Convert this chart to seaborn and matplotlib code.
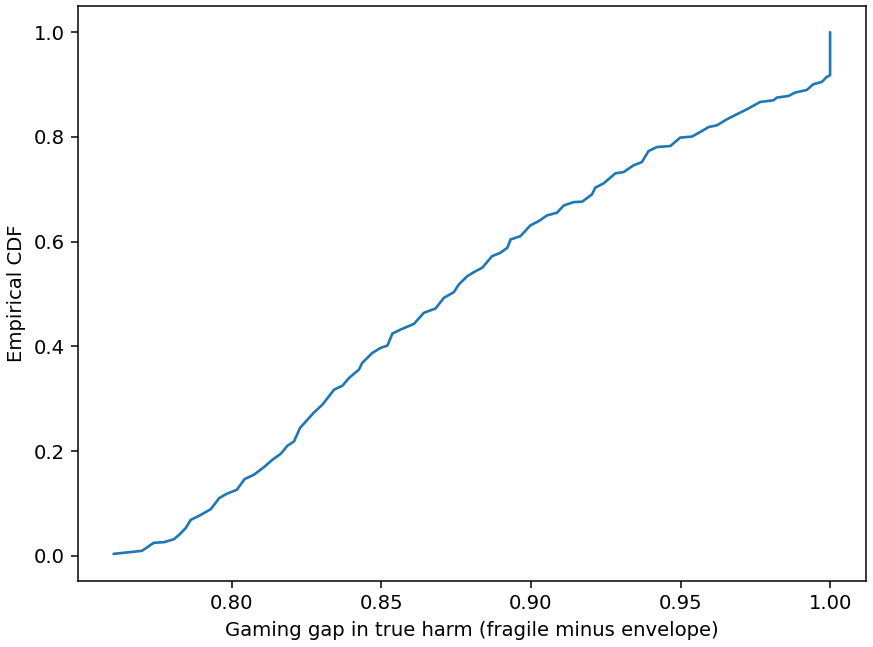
import numpy as np
import pandas as pd
import matplotlib
matplotlib.use("Agg")
import matplotlib.pyplot as plt
import seaborn as sns

# Gaming gap values (sorted) and empirical CDF readings
gap = [0.7605, 0.7700, 0.7739, 0.7774, 0.7807, 0.7824, 0.7846, 0.7863, 0.7891, 0.7930,
       0.7958, 0.7983, 0.8017, 0.8043, 0.8074, 0.8108, 0.8136, 0.8164, 0.8186, 0.8208,
       0.8228, 0.8275, 0.8303, 0.8342, 0.8370, 0.8392, 0.8425, 0.8436, 0.8470, 0.8497,
       0.8520, 0.8537, 0.8564, 0.8609, 0.8642, 0.8681, 0.8709, 0.8742, 0.8759, 0.8787,
       0.8815, 0.8837, 0.8870, 0.8898, 0.8921, 0.8932, 0.8965, 0.8998, 0.9026, 0.9054,
       0.9087, 0.9110, 0.9143, 0.9171, 0.9204, 0.9215, 0.9243, 0.9282, 0.9310, 0.9343,
       0.9371, 0.9393, 0.9421, 0.9466, 0.9499, 0.9538, 0.9566, 0.9594, 0.9622, 0.9655,
       0.9688, 0.9722, 0.9766, 0.9811, 0.9822, 0.9861, 0.9883, 0.9922, 0.9944, 0.9972,
       0.9989, 1.0, 1.0]
cdf = [0.0038, 0.0096, 0.0249, 0.0262, 0.0319, 0.0402, 0.0530, 0.0688, 0.0765, 0.0893,
       0.1103, 0.1185, 0.1262, 0.1467, 0.1549, 0.1696, 0.1836, 0.1950, 0.2103, 0.2185,
       0.2442, 0.2740, 0.2887, 0.3174, 0.3250, 0.3398, 0.3556, 0.3685, 0.3876, 0.3971,
       0.4015, 0.4245, 0.4321, 0.4430, 0.4641, 0.4723, 0.4927, 0.5034, 0.5182, 0.5340,
       0.5436, 0.5501, 0.5723, 0.5788, 0.5883, 0.6042, 0.6105, 0.6310, 0.6392, 0.6501,
       0.6553, 0.6692, 0.6755, 0.6763, 0.6902, 0.7031, 0.7113, 0.7304, 0.7329, 0.7457,
       0.7520, 0.7730, 0.7807, 0.7826, 0.7987, 0.8006, 0.8094, 0.8189, 0.8222, 0.8337,
       0.8432, 0.8528, 0.8667, 0.8700, 0.8751, 0.8782, 0.8847, 0.8897, 0.9006, 0.9050,
       0.9146, 0.9178, 1.0]

xticks = [0.80, 0.85, 0.90, 0.95, 1.00]
yticks = [0.0, 0.2, 0.4, 0.6, 0.8, 1.0]

sns.set_style("ticks")
plt.rcParams["font.family"] = ["DejaVu Sans"]
plt.rcParams["font.size"] = 10.4

dpi = 136
fig = plt.figure(figsize=(873 / dpi, 647 / dpi), dpi=dpi)
ax = fig.add_axes([78 / 873, (647 - 581) / 647, (866 - 78) / 873, (581 - 6) / 647])

df = pd.DataFrame({"gap": gap, "cdf": cdf})
sns.lineplot(data=df, x="gap", y="cdf", sort=False, estimator=None,
             color="#1f77b4", linewidth=1.4, ax=ax)

ax.set_xlim(0.7486, 1.012)
ax.set_ylim(-0.048, 1.05)
ax.set_xticks(xticks)
ax.set_xticklabels([f"{t:.2f}" for t in xticks], fontsize=10.4)
ax.set_yticks(yticks)
ax.set_yticklabels([f"{t:.1f}" for t in yticks], fontsize=10.4)
ax.set_xlabel("Gaming gap in true harm (fragile minus envelope)", fontsize=10.4, color="black")
ax.set_ylabel("Empirical CDF", fontsize=10.4, color="black")
for s in ax.spines.values():
    s.set_visible(True)
    s.set_color("black")
    s.set_linewidth(0.8)
ax.tick_params(direction="out", length=3.5, width=0.8, colors="black")

fig.savefig("out.png", dpi=dpi)
